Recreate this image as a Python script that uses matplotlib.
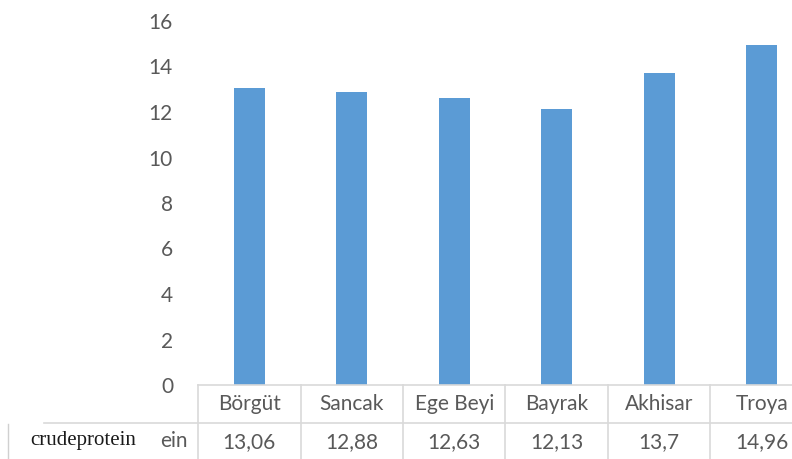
import matplotlib
matplotlib.use('Agg')

import matplotlib.pyplot as plt
from matplotlib.patches import Rectangle
from matplotlib.lines import Line2D

# Crude protein per variety
varieties = ['Börgüt', 'Sancak', 'Ege Beyi', 'Bayrak', 'Akhisar', 'Troya']
protein = [13.06, 12.88, 12.63, 12.13, 13.7, 14.96]
value_labels = ['13,06', '12,88', '12,63', '12,13', '13,7', '14,96']
y_ticks = [0, 2, 4, 6, 8, 10, 12, 14, 16]
row_label = 'crudeprotein'
row_label_visible = 'ein'  # only the tail of the table's own label shows

bar_color = '#5B9BD5'
text_color = '#595959'
line_color = '#D9D9D9'
font = 'Lato'
fs = 15

W, H = 792, 459
fig = plt.figure(figsize=(W / 100, H / 100), dpi=100)
fig.patch.set_facecolor('white')

# axes spans cell edges 198..813 px (right side cut off), 21..385 px from top
ax = fig.add_axes([198 / W, 1 - 385 / H, (813 - 198) / W, (385 - 21) / H])
x = list(range(len(varieties)))
ax.bar(x, protein, width=0.3, color=bar_color)
ax.set_xlim(-0.5, len(varieties) - 0.5)
ax.set_ylim(0, 16)
ax.set_yticks(y_ticks)
ax.set_yticklabels([str(t) for t in y_ticks], fontfamily=font, fontsize=fs, color=text_color)
ax.tick_params(axis='y', length=0, pad=18)
ax.set_xticks([])
for s in ax.spines.values():
    s.set_visible(False)

# data table below the plot
trans = ax.get_xaxis_transform()
ax_h = 385 - 21
row1 = -(423 - 385) / ax_h
bottom = -0.3
lines = [Line2D([-0.5, len(varieties) - 0.5], [0, 0])]
lines.append(Line2D([-2.0, len(varieties) - 0.5], [row1, row1]))
for i in range(len(varieties) + 1):
    lines.append(Line2D([i - 0.5, i - 0.5], [0, bottom]))
for ln in lines:
    ln.set_transform(trans)
    ln.set_color(line_color)
    ln.set_linewidth(1.2)
    ln.set_clip_on(False)
    ax.add_line(ln)

head_y = -(404 - 385) / ax_h
val_y = -(442 - 385) / ax_h
for i, (name, lab) in enumerate(zip(varieties, value_labels)):
    ax.text(i, head_y, name, transform=trans, ha='center', va='center',
            fontfamily=font, fontsize=fs, color=text_color, clip_on=False)
    ax.text(i, val_y, lab, transform=trans, ha='center', va='center',
            fontfamily=font, fontsize=fs, color=text_color, clip_on=False)

# table row label (cut off) and the pasted label box on its left
fig.text(188 / W, 1 - 441 / H, row_label_visible, ha='right', va='center',
         fontfamily=font, fontsize=fs, color=text_color)
fig.patches.append(Rectangle((8 / W, 0), (155 - 8) / W, 1 - 423.5 / H,
                             transform=fig.transFigure, facecolor='white',
                             edgecolor='none', zorder=5))
fig.lines.append(Line2D([8 / W, 8 / W], [0, 1 - 424 / H], transform=fig.transFigure,
                        color='#D0D0D0', linewidth=1, zorder=6))
fig.text(30 / W, 1 - 440 / H, row_label, ha='left', va='center',
         fontfamily='Liberation Serif', fontsize=15, color='#1a1a1a', zorder=7)

plt.savefig('out.png', dpi=100)
